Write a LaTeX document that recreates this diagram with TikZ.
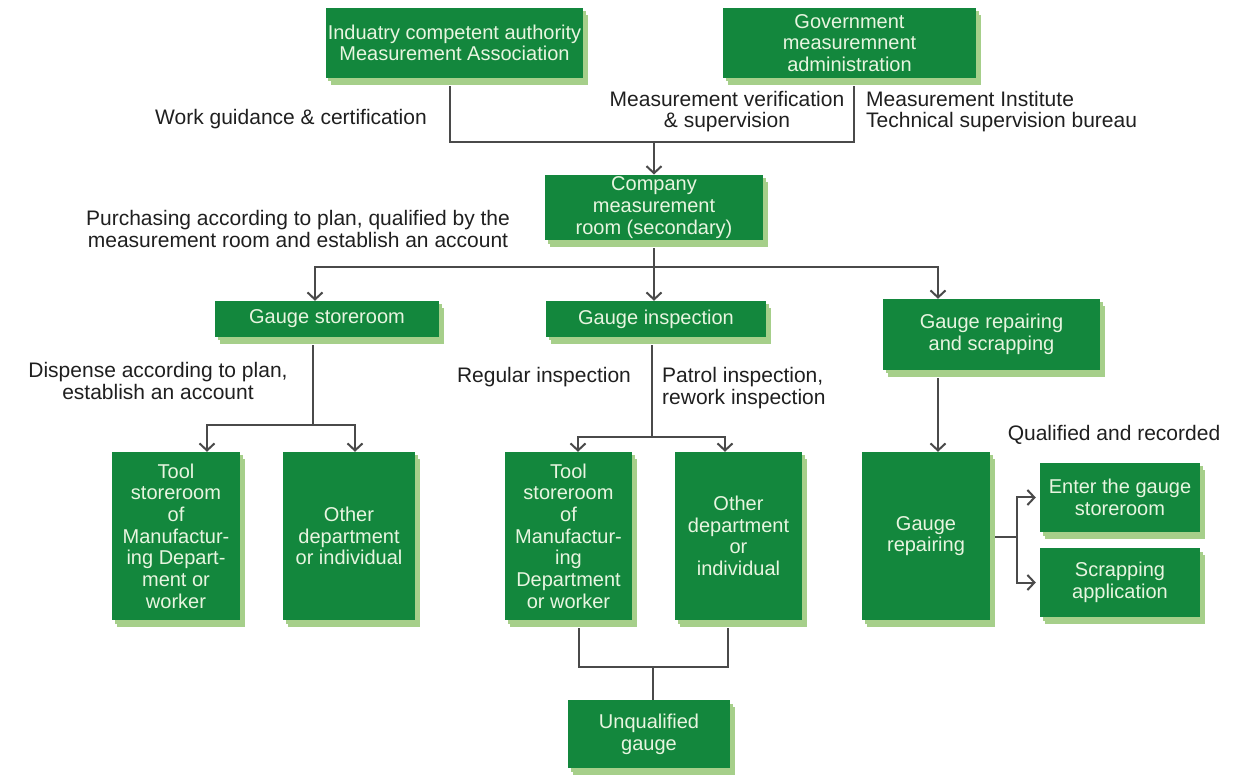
\documentclass[tikz,border=0pt]{standalone}
\usepackage{fontspec}
\setmainfont{Liberation Sans}
\usetikzlibrary{arrows.meta,shadows,positioning}

\definecolor{boxgreen}{HTML}{13873D}
\definecolor{shadegreen}{HTML}{A6CF8A}
\definecolor{linegray}{HTML}{4A4A4A}
\definecolor{boxtext}{HTML}{E8F5E0}

\tikzset{
  box/.style={fill=boxgreen, text=boxtext, align=center, inner sep=2pt,
    font=\fontsize{20}{21.7}\selectfont,
    drop shadow={shadow xshift=5pt, shadow yshift=-7pt, fill=shadegreen, opacity=1},
    drop shadow={shadow xshift=2.5pt, shadow yshift=-3.5pt, fill=shadegreen, opacity=1}},
  note/.style={text=black!88, font=\fontsize{21}{21.5}\selectfont, inner sep=0pt},
  link/.style={draw=linegray, line width=2pt},
  arr/.style={link, -{Straight Barb[length=7pt,width=15pt,line width=2pt]}}
}

\begin{document}
\begin{tikzpicture}[x=1pt,y=-1pt]
    \useasboundingbox (0,0) rectangle (1259,775);

    \node[box, minimum width=255pt, minimum height=70pt] (authority) at (454.5,43) {Induatry competent authority\\Measurement Association};
    \node[box, minimum width=253pt, minimum height=70pt] (admin) at (849.5,43) {Government\\measuremnent\\administration};
    \node[box, minimum width=218pt, minimum height=65pt] (room) at (654,207.5) {Company\\measurement\\room (secondary)};
    \node[box, minimum width=224pt, minimum height=36pt] (store) at (327,319) {Gauge storeroom};
    \node[box, minimum width=220pt, minimum height=36pt] (inspect) at (656,319) {Gauge inspection};
    \node[box, minimum width=217pt, minimum height=71pt] (repair) at (991.5,334.5) {Gauge repairing\\and scrapping};
    \node[box, minimum width=128pt, minimum height=168pt] (tool1) at (176,536) {Tool\\storeroom\\of\\Manufactur-\\ing Depart-\\ment or\\worker};
    \node[box, minimum width=132pt, minimum height=168pt] (other1) at (349,536) {Other\\department\\or individual};
    \node[box, minimum width=127pt, minimum height=168pt] (tool2) at (568.5,536) {Tool\\storeroom\\of\\Manufactur-\\ing\\Department\\or worker};
    \node[box, minimum width=127pt, minimum height=168pt] (other2) at (738.5,536) {Other\\department\\or\\individual};
    \node[box, minimum width=128pt, minimum height=168pt] (gauge) at (926,536) {Gauge\\repairing};
    \node[box, minimum width=160pt, minimum height=69pt] (enter) at (1120,497.5) {Enter the gauge\\storeroom};
    \node[box, minimum width=160pt, minimum height=69pt] (scrap) at (1120,582.5) {Scrapping\\application};
    \node[box, minimum width=162pt, minimum height=68pt] (unqual) at (649,734) {Unqualified\\gauge};

    \node[note] (guide) at (291,119) {Work guidance \& certification};
    \node[note, align=center] (verify) at (727,111.5) {Measurement verification\\\& supervision};
    \node[note, align=left, anchor=west] (inst) at (866,111.5) {Measurement Institute\\Technical supervision bureau};
    \node[note, align=center] (purch) at (298,229) {Purchasing according to plan, qualified by the\\measurement room and establish an account};
    \node[note, align=center] (disp) at (158,381) {Dispense according to plan,\\establish an account};
    \node[note] (regular) at (544,377) {Regular inspection};
    \node[note, align=left, anchor=west] (patrol) at (662,388) {Patrol inspection,\\rework inspection};
    \node[note] (qual) at (1114,435) {Qualified and recorded};

    \coordinate (al) at (450,142);
    \coordinate (ar) at (854,142);
    \coordinate (top) at (654,142);
    \coordinate (mid) at (654,267);
    \coordinate (midl) at (315,267);
    \coordinate (midr) at (938,267);
    \coordinate (sfork) at (313,425);
    \coordinate (sl) at (207,425);
    \coordinate (sr) at (355,425);
    \coordinate (ifork) at (652,437);
    \coordinate (il) at (578,437);
    \coordinate (ir) at (725,437);
    \coordinate (ul) at (579,667);
    \coordinate (ur) at (728,667);
    \coordinate (uf) at (653,667);
    \coordinate (rfork) at (1017,537);

    \draw[link, shorten <=8pt, shorten >=8pt] (authority.south -| al) -- (al) -- (ar) -- (admin.south -| ar);
    \draw[arr] (top) -- (room.north);
    \draw[link, shorten <=8pt] (room.south) -- (mid);
    \draw[arr] (mid) -| (store.north -| midl);
    \draw[arr] (mid) -- (inspect.north -| mid);
    \draw[arr] (mid) -| (repair.north -| midr);
    \draw[arr, shorten <=8pt] (repair.south -| midr) -- (gauge.north -| midr);
    \draw[link, shorten <=8pt] (store.south -| sfork) -- (sfork);
    \draw[arr] (sfork) -| (tool1.north -| sl);
    \draw[arr] (sfork) -| (other1.north -| sr);
    \draw[link, shorten <=8pt] (inspect.south -| ifork) -- (ifork);
    \draw[arr] (ifork) -| (tool2.north -| il);
    \draw[arr] (ifork) -| (other2.north -| ir);
    \draw[link, shorten <=8pt, shorten >=8pt] (tool2.south -| ul) -- (ul) -- (ur) -- (other2.south -| ur);
    \draw[link] (uf) -- (unqual.north -| uf);
    \draw[link, shorten <=5pt] (gauge.east |- rfork) -- (rfork);
    \draw[arr, shorten >=4pt] (rfork) |- (enter.west);
    \draw[arr, shorten >=4pt] (rfork) |- (scrap.west);
\end{tikzpicture}
\end{document}
